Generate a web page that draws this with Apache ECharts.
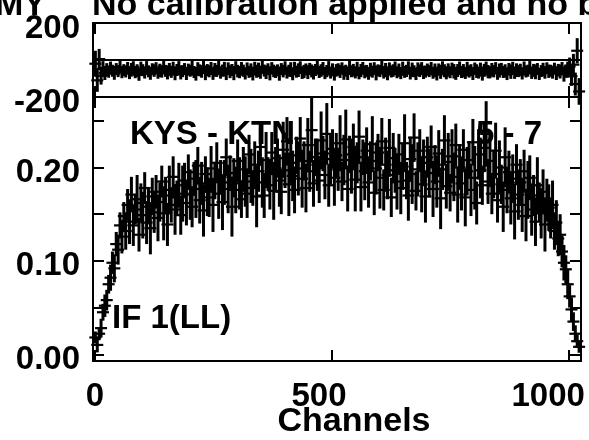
<!DOCTYPE html>
<html>
<head>
<meta charset="utf-8">
<script src="https://cdn.jsdelivr.net/npm/echarts@6/dist/echarts.min.js"></script>
<style>
html,body{margin:0;padding:0;background:#fff;}
#c{width:589px;height:440px;}
</style>
</head>
<body>
<div id="c"></div>
<script>
// ---- data (sampled every 4th channel) ----
const channelStart = 1;
const channelStep = 4;

const ampValues = [
0.018,0.010,0.022,0.028,0.045,0.052,0.058,0.075,0.082,0.098,0.092,0.118,0.112,0.138,0.126,0.148,
0.132,0.160,0.142,0.171,0.138,0.155,0.166,0.128,0.162,0.149,0.178,0.141,0.158,0.135,0.169,0.152,
0.174,0.146,0.163,0.185,0.151,0.170,0.139,0.176,0.160,0.190,0.155,0.168,0.181,0.149,0.172,0.186,
0.162,0.195,0.171,0.158,0.188,0.177,0.202,0.165,0.183,0.154,0.193,0.174,0.168,0.199,0.160,0.186,
0.205,0.172,0.190,0.163,0.184,0.211,0.177,0.194,0.158,0.189,0.176,0.207,0.183,0.166,0.198,0.185,
0.172,0.214,0.191,0.178,0.203,0.169,0.196,0.222,0.184,0.170,0.208,0.193,0.181,0.216,0.175,0.199,
0.210,0.186,0.174,0.219,0.197,0.228,0.182,0.205,0.191,0.176,0.213,0.199,0.231,0.188,0.207,0.178,
0.224,0.196,0.240,0.183,0.211,0.203,0.186,0.229,0.215,0.192,0.236,0.181,0.209,0.220,0.189,0.213,
0.198,0.226,0.185,0.208,0.230,0.177,0.214,0.201,0.222,0.187,0.205,0.233,0.179,0.211,0.196,0.218,
0.184,0.207,0.225,0.173,0.199,0.216,0.189,0.228,0.176,0.203,0.192,0.221,0.168,0.210,0.197,0.185,
0.214,0.178,0.201,0.226,0.186,0.170,0.209,0.193,0.232,0.175,0.198,0.218,0.182,0.205,0.169,0.211,
0.194,0.222,0.177,0.203,0.185,0.215,0.167,0.198,0.229,0.180,0.206,0.173,0.212,0.190,0.224,0.171,
0.200,0.183,0.219,0.168,0.196,0.208,0.176,0.227,0.189,0.162,0.214,0.197,0.181,0.221,0.236,0.185,
0.207,0.172,0.193,0.218,0.165,0.200,0.182,0.158,0.211,0.176,0.195,0.167,0.188,0.153,0.203,0.171,
0.184,0.160,0.196,0.148,0.176,0.189,0.155,0.170,0.142,0.181,0.163,0.151,0.174,0.139,0.165,0.157,
0.146,0.160,0.132,0.141,0.124,0.128,0.110,0.098,0.091,0.075,0.062,0.048,0.035,0.022,0.014,0.008
];

const ampErrors = [
0.006,0.008,0.007,0.010,0.009,0.012,0.011,0.010,0.014,0.012,0.015,0.013,0.016,0.014,0.018,0.015,
0.020,0.017,0.024,0.019,0.022,0.016,0.026,0.018,0.021,0.025,0.017,0.023,0.019,0.028,0.020,0.022,
0.018,0.025,0.021,0.017,0.029,0.020,0.023,0.026,0.019,0.022,0.027,0.018,0.024,0.021,0.030,0.019,
0.024,0.019,0.027,0.022,0.018,0.031,0.020,0.025,0.023,0.028,0.019,0.026,0.021,0.024,0.029,0.020,
0.022,0.027,0.018,0.030,0.024,0.020,0.026,0.019,0.032,0.021,0.025,0.023,0.028,0.020,0.024,0.027,
0.026,0.021,0.029,0.019,0.025,0.033,0.022,0.020,0.027,0.024,0.030,0.018,0.026,0.022,0.031,0.023,
0.021,0.028,0.024,0.030,0.019,0.026,0.034,0.022,0.027,0.025,0.020,0.029,0.023,0.031,0.021,0.026,
0.029,0.022,0.035,0.025,0.020,0.028,0.024,0.031,0.019,0.026,0.033,0.023,0.027,0.021,0.030,0.024,
0.023,0.030,0.021,0.027,0.032,0.024,0.020,0.029,0.025,0.034,0.022,0.028,0.026,0.019,0.031,0.025,
0.027,0.021,0.030,0.024,0.028,0.020,0.033,0.025,0.022,0.029,0.026,0.031,0.021,0.027,0.024,0.030,
0.022,0.028,0.025,0.031,0.020,0.027,0.024,0.032,0.026,0.021,0.029,0.023,0.030,0.025,0.028,0.022,
0.026,0.023,0.030,0.021,0.028,0.025,0.033,0.022,0.027,0.024,0.031,0.020,0.029,0.026,0.023,0.030,
0.024,0.029,0.022,0.031,0.026,0.020,0.028,0.025,0.034,0.023,0.027,0.030,0.021,0.026,0.035,0.024,
0.028,0.022,0.026,0.030,0.024,0.029,0.021,0.027,0.032,0.025,0.023,0.028,0.026,0.030,0.022,0.027,
0.025,0.029,0.023,0.027,0.031,0.024,0.028,0.022,0.026,0.030,0.021,0.027,0.024,0.029,0.023,0.025,
0.022,0.026,0.020,0.024,0.019,0.022,0.017,0.019,0.015,0.016,0.012,0.013,0.010,0.009,0.007,0.006
];

const phaseValues = [
-20,-110,5,-85,-48,-70,-52,-63,-41,-58,-74,-49,-60,-38,-66,-55,
-62,-45,-71,-53,-39,-66,-58,-80,-47,-55,-68,-42,-61,-74,-50,-57,
-44,-69,-56,-63,-35,-59,-72,-51,-64,-46,-77,-54,-40,-67,-60,-49,
-73,-52,-58,-43,-65,-79,-48,-56,-62,-37,-70,-55,-61,-46,-75,-53,
-59,-41,-68,-57,-50,-76,-45,-63,-54,-71,-39,-60,-66,-48,-58,-73,
-47,-64,-55,-78,-42,-61,-53,-69,-36,-57,-67,-50,-72,-44,-59,-65,
-56,-74,-49,-60,-43,-68,-58,-52,-77,-45,-63,-55,-40,-70,-62,-51,
-66,-48,-59,-73,-54,-38,-65,-57,-47,-71,-60,-44,-68,-53,-79,-56,
-50,-62,-45,-69,-58,-75,-41,-61,-55,-67,-49,-72,-57,-43,-64,-59,
-74,-52,-63,-46,-70,-56,-60,-39,-68,-54,-77,-48,-62,-57,-45,-66,
-55,-71,-47,-64,-59,-42,-73,-53,-61,-76,-50,-58,-44,-67,-63,-52,
-60,-45,-69,-56,-78,-51,-64,-40,-58,-72,-54,-66,-48,-61,-75,-57,
-43,-65,-58,-70,-49,-62,-55,-74,-46,-60,-68,-52,-79,-56,-41,-63,
-67,-53,-61,-44,-72,-57,-48,-65,-59,-76,-50,-63,-42,-69,-55,-60,
-54,-73,-46,-62,-58,-41,-70,-56,-64,-49,-75,-60,-52,-67,-45,-61,
-58,-66,-47,-71,-55,-62,-44,-77,-60,-52,-35,-88,-25,-130,50,-170
];

const phaseErrors = [
70,62,55,48,42,38,35,33,31,30,33,29,31,28,32,30,
28,34,30,37,26,32,35,29,38,27,31,36,25,33,30,34,
32,27,36,30,39,28,33,35,26,37,31,29,34,38,27,32,
35,30,28,38,32,26,36,31,34,29,39,33,27,35,30,37,
29,36,33,27,40,31,28,35,32,38,26,34,30,37,33,28,
34,28,37,31,26,35,39,30,33,27,36,32,38,29,34,31,
31,38,27,34,36,29,32,40,28,35,30,37,33,26,36,32,
37,29,35,32,28,39,31,34,36,27,33,38,30,35,29,34,
30,35,32,38,29,33,37,28,34,31,39,27,36,32,35,30,
33,37,29,34,40,28,32,36,30,38,27,35,31,34,37,29,
36,31,38,28,33,35,30,39,27,32,37,34,29,36,31,33,
28,34,31,37,32,29,38,33,35,26,36,30,34,39,28,35,
35,30,36,27,39,33,28,34,32,37,29,38,31,35,30,36,
31,37,33,29,35,38,32,27,36,30,34,39,28,33,37,31,
34,29,38,32,27,36,31,35,40,28,33,30,37,34,29,36,
32,35,30,37,34,38,33,40,36,43,48,52,58,62,68,72
];

const channelTicks = [0, 500, 1000];
const ampTicks = [0, 0.05, 0.10, 0.15, 0.20, 0.25];
const ampTickLabels = [0, 0.10, 0.20];
const phaseTickLabels = [-200, 200];

const titleLeft = 'MY';
const titleText = 'No calibration applied and no bandpass';
const baselineText = 'KYS - KTN';
const sourceText = '5 - 7';
const ifText = 'IF 1(LL)';
const xName = 'Channels';

// ---- build series data ----
const channels = ampValues.map((_, i) => channelStart + channelStep * i);
const ampData = channels.map((c, i) => [c, ampValues[i], ampErrors[i]]);
const phaseData = channels.map((c, i) => [c, phaseValues[i], phaseErrors[i]]);

const FONT = '"Liberation Sans", Arial, Helvetica, sans-serif';
const FS = 33;
const BLACK = '#000';

function renderCross(params, api) {
  const x = api.value(0), y = api.value(1), e = api.value(2);
  const c = api.coord([x, y]);
  const hi = api.coord([x, y + e]);
  const lo = api.coord([x, y - e]);
  const arm = 6;
  return {
    type: 'group',
    children: [
      { type: 'line', shape: { x1: c[0] - arm, y1: c[1], x2: c[0] + arm, y2: c[1] }, style: { stroke: BLACK, lineWidth: 2.2 } },
      { type: 'line', shape: { x1: c[0], y1: Math.min(hi[1], c[1] - arm), x2: c[0], y2: Math.max(lo[1], c[1] + arm) }, style: { stroke: BLACK, lineWidth: 3 } }
    ]
  };
}

const tickStyle = { color: BLACK, width: 2 };
const labelStyle = { color: BLACK, fontFamily: FONT, fontWeight: 'bold', fontSize: FS };
const yRich = { v: Object.assign({ padding: [11, 0, 0, 0] }, labelStyle) };

const xMin = -4, xMax = 1025;
const ampMin = -0.0072, ampMax = 0.2755;

function xAx(grid, pos, showLabel) {
  return {
    type: 'value', gridIndex: grid, position: pos, min: xMin, max: xMax,
    axisLine: { show: false, onZero: false },
    splitLine: { show: false },
    axisTick: { show: true, inside: true, length: 11, lineStyle: tickStyle, customValues: channelTicks },
    axisLabel: showLabel ? Object.assign({
      show: true, margin: 19, customValues: channelTicks,
      formatter: v => v === 0 ? '{a|0}' : (v === 500 ? '{b|500}' : '{c|1000}'),
      rich: {
        a: Object.assign({}, labelStyle),
        b: Object.assign({ padding: [0, 26, 0, 0] }, labelStyle),
        c: Object.assign({ padding: [0, 42, 0, 0] }, labelStyle)
      }
    }, labelStyle) : { show: false }
  };
}

const option = {
  animation: false,
  backgroundColor: '#fff',
  grid: [
    { left: 93, top: 23, width: 488, height: 74, show: true, borderColor: BLACK, borderWidth: 2, backgroundColor: 'transparent', containLabel: false, outerBoundsMode: 'none' },
    { left: 93, top: 97, width: 488, height: 264, show: true, borderColor: BLACK, borderWidth: 2, backgroundColor: 'transparent', containLabel: false, outerBoundsMode: 'none' }
  ],
  xAxis: [
    xAx(0, 'bottom', false),
    xAx(0, 'top', false),
    xAx(1, 'bottom', true),
    xAx(1, 'top', false)
  ],
  yAxis: [
    {
      type: 'value', gridIndex: 0, position: 'left', min: -200, max: 200,
      axisLine: { show: false, onZero: false }, splitLine: { show: false },
      axisTick: { show: false },
      axisLabel: Object.assign({ show: true, margin: 13, customValues: phaseTickLabels, formatter: v => '{v|' + v + '}', rich: yRich }, labelStyle)
    },
    {
      type: 'value', gridIndex: 1, position: 'left', min: ampMin, max: ampMax,
      axisLine: { show: false, onZero: false }, splitLine: { show: false },
      axisTick: { show: true, inside: true, length: 11, lineStyle: tickStyle, customValues: ampTicks },
      axisLabel: Object.assign({ show: true, margin: 13, customValues: ampTickLabels, formatter: v => '{v|' + v.toFixed(2) + '}', rich: yRich }, labelStyle)
    },
    {
      type: 'value', gridIndex: 1, position: 'right', min: ampMin, max: ampMax,
      axisLine: { show: false, onZero: false }, splitLine: { show: false },
      axisTick: { show: true, inside: true, length: 11, lineStyle: tickStyle, customValues: ampTicks },
      axisLabel: { show: false }
    }
  ],
  series: [
    {
      type: 'custom', name: 'phase', xAxisIndex: 0, yAxisIndex: 0,
      renderItem: renderCross, data: phaseData, clip: false,
      encode: { x: 0, y: 1 },
      markLine: {
        silent: true, symbol: 'none', label: { show: false },
        lineStyle: { color: BLACK, width: 2, type: 'solid' },
        data: [{ yAxis: 0 }]
      }
    },
    {
      type: 'custom', name: 'amplitude', xAxisIndex: 2, yAxisIndex: 1,
      renderItem: renderCross, data: ampData, clip: false,
      encode: { x: 0, y: 1 }
    }
  ],
  graphic: [
    { type: 'text', x: 46, y: 6, style: { text: titleLeft, font: `bold 34px ${FONT}`, fill: BLACK, align: 'right', verticalAlign: 'middle' } },
    { type: 'text', x: 92, y: 6, style: { text: titleText, font: `bold 34px ${FONT}`, fill: BLACK, align: 'left', verticalAlign: 'middle' } },
    { type: 'text', x: 130, y: 135, z: 10, style: { text: baselineText, font: `bold ${FS}px ${FONT}`, fill: BLACK, align: 'left', verticalAlign: 'middle' } },
    { type: 'text', x: 476, y: 135, z: 10, style: { text: sourceText, font: `bold ${FS}px ${FONT}`, fill: BLACK, align: 'left', verticalAlign: 'middle' } },
    { type: 'text', x: 112, y: 319, z: 10, style: { text: ifText, font: `bold ${FS}px ${FONT}`, fill: BLACK, align: 'left', verticalAlign: 'middle' } },
    { type: 'text', x: 354, y: 422, style: { text: xName, font: `bold 34px ${FONT}`, fill: BLACK, align: 'center', verticalAlign: 'middle' } }
  ]
};

const chart = echarts.init(document.getElementById('c'), null, { renderer: 'canvas' });
chart.setOption(option);
</script>
</body>
</html>
